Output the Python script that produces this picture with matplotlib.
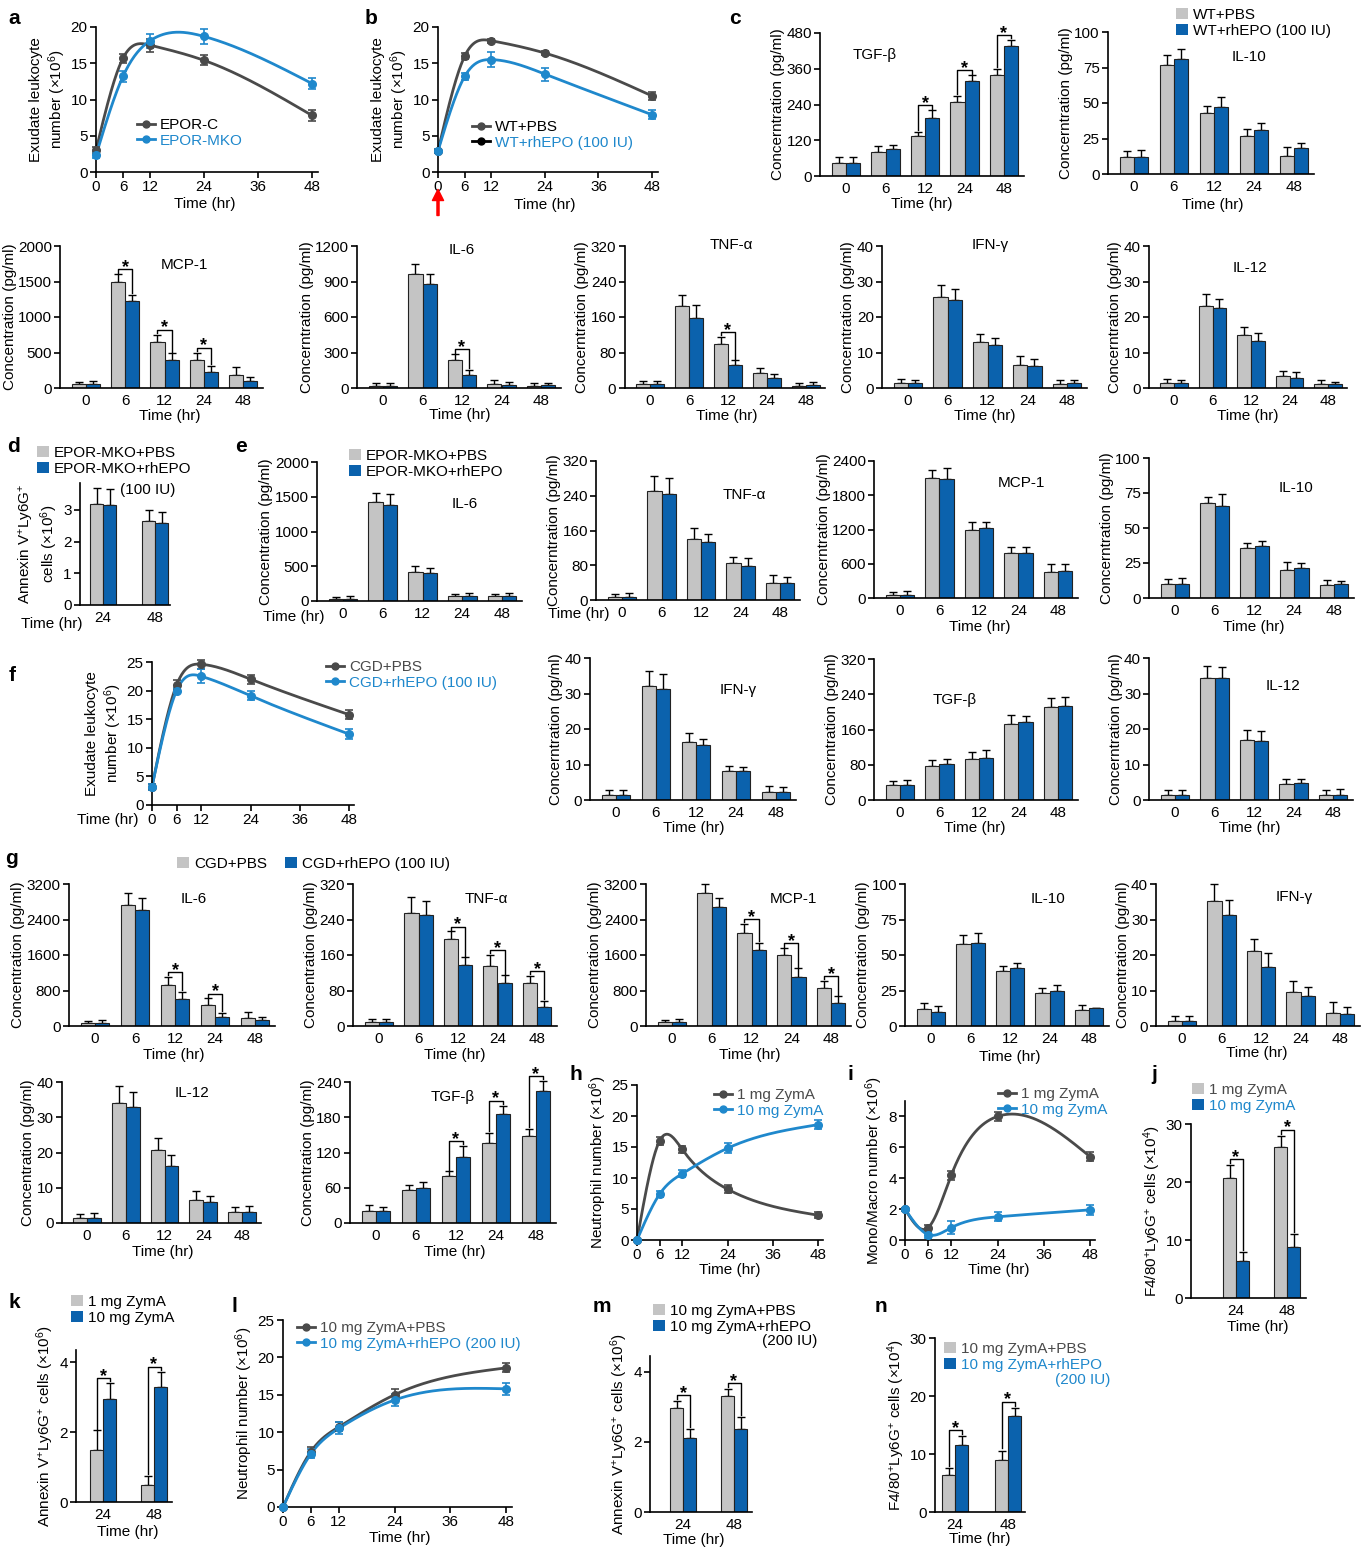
import numpy as np
import matplotlib
matplotlib.use('Agg')
import matplotlib.pyplot as plt
from matplotlib.lines import Line2D
from matplotlib.patches import Patch

plt.rcParams['font.family'] = ['Liberation Sans', 'DejaVu Sans']
plt.rcParams['mathtext.fontset'] = 'custom'
plt.rcParams['mathtext.rm'] = 'Liberation Sans'
plt.rcParams['mathtext.it'] = 'Liberation Sans:italic'
plt.rcParams['mathtext.bf'] = 'Liberation Sans:bold'

# ---------------- data ----------------
hours = [0, 6, 12, 24, 48]
times = ['0', '6', '12', '24', '48']
days2 = ['24', '48']

# a: exudate leukocytes
a_c = [3.0, 15.7, 17.5, 15.4, 7.8]
a_c_err = [0.5, 0.6, 0.9, 0.7, 0.7]
a_mko = [2.3, 13.2, 18.1, 18.7, 12.2]
a_mko_err = [0.4, 0.8, 1.0, 1.0, 0.8]
# b
b_pbs = [2.9, 16.0, 18.1, 16.4, 10.5]
b_pbs_err = [0.3, 0.4, 0.3, 0.3, 0.6]
b_epo = [2.9, 13.2, 15.5, 13.5, 7.9]
b_epo_err = [0.3, 0.5, 1.0, 0.9, 0.6]

# c (WT+PBS, WT+rhEPO)
c_tgf = [[45, 82, 135, 250, 340], [45, 90, 195, 318, 435]]
c_tgf_err = [[18, 18, 12, 20, 20], [20, 15, 25, 20, 22]]
c_il10 = [[12, 77, 43, 27, 13], [12, 81, 47, 31, 18]]
c_il10_err = [[4, 7, 5, 5, 6], [5, 7, 7, 5, 4]]
c_mcp = [[50, 1500, 650, 400, 190], [55, 1220, 400, 220, 100]]
c_mcp_err = [[40, 100, 100, 100, 100], [50, 90, 90, 90, 60]]
c_il6 = [[20, 960, 235, 35, 20], [20, 875, 110, 25, 25]]
c_il6_err = [[20, 90, 50, 30, 20], [25, 90, 45, 25, 20]]
c_tnf = [[8, 185, 100, 33, 5], [8, 158, 52, 22, 6]]
c_tnf_err = [[7, 25, 15, 12, 6], [8, 28, 10, 10, 7]]
c_ifn = [[1.5, 25.5, 13.0, 6.5, 1.2], [1.5, 24.8, 12.2, 6.2, 1.3]]
c_ifn_err = [[1.0, 3.4, 2.2, 2.5, 1.0], [0.7, 3.2, 1.8, 2.0, 0.9]]
c_il12 = [[1.5, 23.2, 14.8, 3.5, 1.2], [1.5, 22.4, 13.2, 2.7, 1.2]]
c_il12_err = [[1.0, 3.4, 2.3, 1.2, 1.0], [0.7, 2.7, 2.4, 1.8, 0.5]]

# d (EPOR-MKO + PBS / rhEPO)
d_vals = [[3.2, 2.65], [3.15, 2.6]]
d_err = [[0.5, 0.35], [0.5, 0.33]]

# e
e_il6 = [[30, 1420, 420, 70, 65], [30, 1380, 410, 75, 75]]
e_il6_err = [[30, 130, 80, 35, 40], [40, 160, 60, 45, 35]]
e_tnf = [[8, 250, 140, 85, 40], [8, 245, 133, 78, 40]]
e_tnf_err = [[5, 35, 25, 15, 18], [8, 35, 18, 18, 12]]
e_mcp = [[60, 2100, 1200, 780, 460], [60, 2090, 1220, 780, 470]]
e_mcp_err = [[50, 150, 130, 120, 140], [60, 180, 120, 110, 120]]
e_il10 = [[10, 68, 36, 20, 9.5], [10, 66, 37, 21.5, 10]]
e_il10_err = [[3.5, 4.5, 3.5, 5.5, 3.5], [4, 8, 3.5, 3.5, 2.5]]

# f
f_pbs = [3.2, 21.0, 24.6, 22.0, 15.8]
f_pbs_err = [0.5, 0.8, 0.8, 0.8, 0.8]
f_epo = [3.2, 20.0, 22.5, 19.1, 12.4]
f_epo_err = [0.5, 0.5, 1.2, 0.8, 0.8]
f_ifn = [[1.5, 32, 16.3, 8.3, 2.2], [1.5, 31.3, 15.5, 8.2, 2.2]]
f_ifn_err = [[1.2, 4.3, 2.7, 1.2, 1.8], [1.3, 4.2, 1.8, 1.2, 1.5]]
f_tgf = [[33, 78, 92, 172, 212], [33, 82, 95, 178, 213]]
f_tgf_err = [[10, 12, 18, 20, 20], [12, 12, 18, 12, 20]]
f_il12 = [[1.5, 34.5, 16.8, 4.5, 1.5], [1.5, 34.5, 16.5, 4.7, 1.5]]
f_il12_err = [[1.2, 3.2, 3.0, 1.5, 1.2], [1.3, 3.0, 3.0, 1.3, 1.5]]

# g
g_il6 = [[60, 2720, 920, 470, 180], [60, 2620, 600, 200, 140]]
g_il6_err = [[50, 280, 180, 150, 130], [70, 260, 170, 90, 70]]
g_tnf = [[8, 255, 195, 135, 98], [8, 250, 137, 96, 43]]
g_tnf_err = [[7, 35, 18, 25, 15], [8, 32, 18, 18, 13]]
g_mcp = [[80, 3000, 2100, 1600, 860], [80, 2680, 1720, 1100, 520]]
g_mcp_err = [[60, 200, 200, 150, 150], [80, 200, 150, 200, 150]]
g_il10 = [[12, 58, 38.5, 23, 11], [10, 58.5, 40.5, 25, 12.5]]
g_il10_err = [[4, 6, 4, 4, 4], [4, 7, 4, 4, 0]]
g_ifn = [[1.5, 35.3, 21, 9.5, 3.8], [1.5, 31.4, 16.6, 8.4, 3.3]]
g_ifn_err = [[1.2, 4.7, 3.5, 3.2, 3.0], [1.4, 4.2, 4.0, 2.7, 2.0]]
g_il12 = [[1.5, 34, 20.8, 6.6, 3.0], [1.5, 32.8, 16.3, 6.0, 3.0]]
g_il12_err = [[1.0, 5.0, 3.3, 2.5, 1.5], [1.3, 4.5, 3.0, 1.7, 1.8]]
g_tgf = [[20, 57, 80, 137, 148], [20, 60, 113, 186, 224]]
g_tgf_err = [[10, 8, 8, 16, 12], [8, 10, 18, 14, 18]]

# h / i (1 mg, 10 mg ZymA)
h_1mg = [0, 16.0, 14.6, 8.2, 4.0]
h_1mg_err = [0, 0.6, 0.5, 0.6, 0.5]
h_10mg = [0, 7.4, 10.7, 14.8, 18.6]
h_10mg_err = [0, 0.5, 0.6, 0.8, 0.7]
i_1mg = [2.0, 0.8, 4.2, 8.0, 5.4]
i_1mg_err = [0.1, 0.2, 0.3, 0.3, 0.3]
i_10mg = [2.0, 0.35, 0.8, 1.5, 1.95]
i_10mg_err = [0.1, 0.2, 0.4, 0.3, 0.3]

# j, k
j_vals = [[20.7, 26.1], [6.4, 8.8]]
j_err = [[2.2, 1.9], [1.6, 2.3]]
k_vals = [[1.5, 0.5], [2.95, 3.3]]
k_err = [[0.55, 0.25], [0.45, 0.42]]

# l
l_pbs = [0, 7.4, 10.7, 15.0, 18.6]
l_pbs_err = [0, 0.6, 0.6, 0.8, 0.6]
l_epo = [0, 7.1, 10.5, 14.3, 15.8]
l_epo_err = [0, 0.6, 0.8, 0.8, 0.8]

# m, n
m_vals = [[2.97, 3.3], [2.12, 2.38]]
m_err = [[0.2, 0.22], [0.25, 0.32]]
n_vals = [[6.4, 9.0], [11.6, 16.5]]
n_err = [[1.2, 1.6], [1.5, 1.5]]

# ---------------- style ----------------
W, H = 1367, 1549
FS = 11
GRAY = '#c4c4c4'
BLUE = '#0b62ad'
DARK = '#4a4a4a'
LBLUE = '#1f88cc'
CONC = 'Concentration (pg/ml)'
CONR = 'Concerntration (pg/ml)'
EXU = 'Exudate leukocyte\nnumber (×10$^6$)'
TH = 'Time (hr)'

fig = plt.figure(figsize=(W / 100, H / 100), dpi=100)


def px_axes(l, t, r, b):
    return fig.add_axes([l / W, 1 - b / H, (r - l) / W, (b - t) / H])


def ptext(x, y, s, **kw):
    kw.setdefault('fontsize', FS)
    kw.setdefault('ha', 'center')
    kw.setdefault('va', 'center')
    fig.text(x / W, 1 - y / H, s, **kw)


def style(ax):
    for sp in ['top', 'right']:
        ax.spines[sp].set_visible(False)
    for sp in ['left', 'bottom']:
        ax.spines[sp].set_linewidth(1.2)
    ax.tick_params(labelsize=FS, width=1.2, length=4, pad=2)


def noclip(container):
    for part in container.lines:
        if part is None:
            continue
        for art in (part if isinstance(part, tuple) else (part,)):
            art.set_clip_on(False)


def spline(x, y, n=300):
    # natural cubic spline through the points
    x = np.asarray(x, float)
    y = np.asarray(y, float)
    k = len(x)
    h = np.diff(x)
    A = np.zeros((k, k))
    r = np.zeros(k)
    A[0, 0] = A[-1, -1] = 1
    for i in range(1, k - 1):
        A[i, i - 1] = h[i - 1]
        A[i, i] = 2 * (h[i - 1] + h[i])
        A[i, i + 1] = h[i]
        r[i] = 3 * ((y[i + 1] - y[i]) / h[i] - (y[i] - y[i - 1]) / h[i - 1])
    c = np.linalg.solve(A, r)
    b = (y[1:] - y[:-1]) / h - h * (2 * c[:-1] + c[1:]) / 3
    d = (c[1:] - c[:-1]) / (3 * h)
    xs = np.linspace(x[0], x[-1], n)
    j = np.clip(np.searchsorted(x, xs) - 1, 0, k - 2)
    t = xs - x[j]
    return xs, y[j] + b[j] * t + c[j] * t ** 2 + d[j] * t ** 3


def draw_bars(ax, pos, vals, err, w):
    for off, ys, es, col in [(-w / 2, vals[0], err[0], GRAY), (w / 2, vals[1], err[1], BLUE)]:
        ys = np.asarray(ys, float)
        es = np.asarray(es, float)
        ax.bar(pos + off, ys, w, color=col, edgecolor='#222222', linewidth=0.8, zorder=2)
        eb = ax.errorbar(pos + off, ys, yerr=[np.zeros_like(es), es], fmt='none', ecolor='k',
                         elinewidth=1, capsize=3, capthick=1, zorder=1)
        noclip(eb)


def star(ax, i, vals, err, w, ymax):
    tg = vals[0][i] + err[0][i]
    tb = vals[1][i] + err[1][i]
    h = max(tg, tb) + 0.035 * ymax
    g = 0.012 * ymax
    ax.plot([i - w / 2, i - w / 2, i + w / 2, i + w / 2], [tg + g, h, h, tb + g],
            color='k', lw=1, clip_on=False)
    ax.annotate('*', (i, h), xytext=(0, -2), textcoords='offset points', ha='center',
                va='baseline', fontsize=13, fontweight='bold', annotation_clip=False)


def bar_panel(x0, x48, top, bot, vals, err, ymax, step, title, tpos, ylabel, stars=(), w=0.36):
    s = (x48 - x0) / 4
    ax = px_axes(x0 - 0.65 * s, top, x48 + 0.5 * s, bot)
    style(ax)
    pos = np.arange(len(times))
    draw_bars(ax, pos, vals, err, w)
    for i in stars:
        star(ax, i, vals, err, w, ymax)
    ax.set_xlim(-0.65, 4.5)
    ax.set_ylim(0, ymax)
    ax.set_yticks(np.arange(0, ymax + step / 2, step))
    ax.set_xticks(pos, times)
    ax.tick_params(axis='x', length=0, pad=4)
    ax.set_ylabel(ylabel, fontsize=FS, labelpad=1)
    ptext(tpos[0], tpos[1], title)
    return ax


def small_bars(spine, c1, c2, right, top, bot, vals, err, ymax, ticks, ylabel, stars=True):
    s = c2 - c1
    ax = px_axes(spine, top, right, bot)
    style(ax)
    pos = np.arange(2)
    w = 13 / s
    draw_bars(ax, pos, vals, err, w)
    if stars:
        for i in pos:
            star(ax, i, vals, err, w, ymax)
    ax.set_xlim((spine - c1) / s, 1 + (right - c2) / s)
    ax.set_ylim(0, ymax)
    ax.set_yticks(ticks)
    ax.set_xticks(pos, days2)
    ax.tick_params(axis='x', length=0, pad=4)
    ax.set_ylabel(ylabel, fontsize=FS, labelpad=2)
    return ax


def line_panel(x0, x48, top, bot, ymax, step, series, ylabel, ytop=None):
    s = (x48 - x0) / 48
    ax = px_axes(x0, top, x48 + 1.3 * s, bot)
    style(ax)
    for y, e, col in series:
        xs, ys = spline(hours, y)
        ax.plot(xs, ys, color=col, lw=2, clip_on=False, zorder=2)
        eb = ax.errorbar(hours, y, yerr=e, fmt='o', color=col, ms=5.5, elinewidth=1.2,
                         capsize=3, capthick=1.2, zorder=3)
        noclip(eb)
    ax.set_xlim(0, 49.3)
    ax.set_ylim(0, ytop if ytop else ymax)
    ax.set_xticks([0, 6, 12, 24, 36, 48])
    ax.set_yticks(np.arange(0, ymax + step / 2, step))
    ax.set_ylabel(ylabel, fontsize=FS, labelpad=2)
    return ax


def legend(ax, handles, labels, x, y, colors=None, hl=0.8, ncol=1):
    lg = ax.legend(handles, labels, loc='upper left', bbox_to_anchor=(x / W, 1 - y / H),
                   bbox_transform=fig.transFigure, frameon=False, fontsize=FS,
                   handlelength=hl, handleheight=0.7, handletextpad=0.3, labelspacing=0.1,
                   borderpad=0, borderaxespad=0, ncol=ncol, columnspacing=1.2)
    if colors:
        for t, c in zip(lg.get_texts(), colors):
            t.set_color(c)
    return lg


def bar_handles():
    return [Patch(facecolor=GRAY, edgecolor='none'), Patch(facecolor=BLUE, edgecolor='none')]


def line_handle(col):
    return Line2D([], [], color=col, marker='o', ms=5, lw=2)


# ---------------- row 1 ----------------
ax = line_panel(96, 312, 27, 172, 20, 5,
                [(a_c, a_c_err, DARK), (a_mko, a_mko_err, LBLUE)], EXU)
legend(ax, [line_handle(DARK), line_handle(LBLUE)], ['EPOR-C', 'EPOR-MKO'], 137, 118,
       colors=['k', LBLUE], hl=1.2)
ptext(205, 204, TH)

ax = line_panel(438, 652, 27, 172, 20, 5,
                [(b_pbs, b_pbs_err, DARK), (b_epo, b_epo_err, LBLUE)], EXU)
legend(ax, [line_handle(DARK), line_handle('k')], ['WT+PBS', 'WT+rhEPO (100 IU)'], 472, 120,
       colors=['k', LBLUE], hl=1.2)
ax.annotate('', xy=(0, -0.12), xytext=(0, -0.3), xycoords=('data', 'axes fraction'),
            arrowprops=dict(color='red', width=1.5, headwidth=8, headlength=8), annotation_clip=False)
ptext(545, 205, TH)

bar_panel(846, 1004, 33, 176, c_tgf, c_tgf_err, 480, 120, 'TGF-β', (875, 55), CONR, stars=(2, 3, 4))
ptext(922, 204, TH)
ax = bar_panel(1134, 1294, 32, 174, c_il10, c_il10_err, 100, 25, 'IL-10', (1249, 57), CONR)
legend(ax, bar_handles(), ['WT+PBS', 'WT+rhEPO (100 IU)'], 1176, 8)
ptext(1213, 205, TH)

# ---------------- row 2 ----------------
bar_panel(86, 243, 246, 388, c_mcp, c_mcp_err, 2000, 500, 'MCP-1', (184, 265), CONC, stars=(1, 2, 3))
ptext(170, 416, TH)
bar_panel(383, 541, 246, 388, c_il6, c_il6_err, 1200, 300, 'IL-6', (462, 250), CONR, stars=(2,))
ptext(460, 415, TH)
bar_panel(650, 806, 246, 388, c_tnf, c_tnf_err, 320, 80, 'TNF-α', (731, 245), CONR, stars=(2,))
ptext(727, 416, TH)
bar_panel(908, 1067, 246, 388, c_ifn, c_ifn_err, 40, 10, 'IFN-γ', (990, 245), CONR)
ptext(985, 416, TH)
bar_panel(1174, 1328, 246, 388, c_il12, c_il12_err, 40, 10, 'IL-12', (1250, 268), CONR)
ptext(1248, 416, TH)

# ---------------- row 3 ----------------
ax = small_bars(80, 103, 155, 170, 483, 605, d_vals, d_err, 3.85, [0, 1, 2, 3],
                'Annexin V$^{+}$Ly6G$^{+}$\ncells (×10$^6$)', stars=False)
legend(ax, bar_handles(), ['EPOR-MKO+PBS', 'EPOR-MKO+rhEPO'], 37, 446)
ptext(148, 490, '(100 IU)')
ptext(52, 624, TH)

ax = bar_panel(343, 502, 462, 601, e_il6, e_il6_err, 2000, 500, 'IL-6', (465, 504), CONC)
legend(ax, bar_handles(), ['EPOR-MKO+PBS', 'EPOR-MKO+rhEPO'], 349, 449)
ptext(294, 617, TH)
bar_panel(622, 780, 461, 600, e_tnf, e_tnf_err, 320, 80, 'TNF-α', (744, 495), CONR)
ptext(579, 614, TH)
bar_panel(900, 1058, 461, 598, e_mcp, e_mcp_err, 2400, 600, 'MCP-1', (1021, 483), CONR)
ptext(980, 627, TH)
bar_panel(1175, 1334, 458, 598, e_il10, e_il10_err, 100, 25, 'IL-10', (1296, 488), CONR)
ptext(1254, 627, TH)

# ---------------- row 4 ----------------
ax = line_panel(152, 349, 662, 805, 25, 5,
                [(f_pbs, f_pbs_err, DARK), (f_epo, f_epo_err, LBLUE)], EXU)
legend(ax, [line_handle(DARK), line_handle(LBLUE)], ['CGD+PBS', 'CGD+rhEPO (100 IU)'], 326, 660,
       colors=[DARK, LBLUE], hl=1.2)
ptext(108, 820, TH)
bar_panel(616, 776, 658, 800, f_ifn, f_ifn_err, 40, 10, 'IFN-γ', (738, 690), CONR)
ptext(694, 828, TH)
bar_panel(900, 1058, 659, 800, f_tgf, f_tgf_err, 320, 80, 'TGF-β', (955, 700), CONR)
ptext(975, 828, TH)
bar_panel(1175, 1333, 658, 800, f_il12, f_il12_err, 40, 10, 'IL-12', (1283, 686), CONR)
ptext(1250, 828, TH)

# ---------------- row 5 ----------------
ax = bar_panel(95, 255, 884, 1026, g_il6, g_il6_err, 3200, 800, 'IL-6', (194, 899), CONC, stars=(2, 3))
legend(ax, bar_handles(), ['CGD+PBS', 'CGD+rhEPO (100 IU)'], 177, 857, ncol=2)
ptext(174, 1055, TH)
bar_panel(379, 537, 884, 1026, g_tnf, g_tnf_err, 320, 80, 'TNF-α', (486, 899), CONC, stars=(2, 3, 4))
ptext(455, 1055, TH)
bar_panel(672, 831, 884, 1026, g_mcp, g_mcp_err, 3200, 800, 'MCP-1', (793, 899), CONC, stars=(2, 3, 4))
ptext(750, 1055, TH)
bar_panel(931, 1089, 884, 1026, g_il10, g_il10_err, 100, 25, 'IL-10', (1048, 899), CONC)
ptext(1010, 1057, TH)
bar_panel(1182, 1340, 884, 1026, g_ifn, g_ifn_err, 40, 10, 'IFN-γ', (1294, 897), CONC)
ptext(1257, 1053, TH)

# ---------------- row 6 ----------------
bar_panel(87, 242, 1082, 1223, g_il12, g_il12_err, 40, 10, 'IL-12', (192, 1093), CONC)
ptext(163, 1252, TH)
bar_panel(376, 536, 1082, 1223, g_tgf, g_tgf_err, 240, 60, 'TGF-β', (453, 1097), CONC, stars=(2, 3, 4))
ptext(455, 1252, TH)

ax = line_panel(637, 818, 1085, 1240, 25, 5,
                [(h_1mg, h_1mg_err, DARK), (h_10mg, h_10mg_err, LBLUE)],
                'Neutrophil number (×10$^6$)')
legend(ax, [line_handle(DARK), line_handle(LBLUE)], ['1 mg ZymA', '10 mg ZymA'], 714, 1088,
       colors=[DARK, LBLUE], hl=1.2)
ptext(730, 1270, TH)

ax = line_panel(905, 1090, 1101, 1240, 8, 2,
                [(i_1mg, i_1mg_err, DARK), (i_10mg, i_10mg_err, LBLUE)],
                'Mono/Macro number (×10$^6$)', ytop=9)
legend(ax, [line_handle(DARK), line_handle(LBLUE)], ['1 mg ZymA', '10 mg ZymA'], 998, 1087,
       colors=[DARK, LBLUE], hl=1.2)
ptext(999, 1270, TH)

ax = small_bars(1191, 1236, 1287, 1306, 1124, 1298, j_vals, j_err, 30, [0, 10, 20, 30],
                'F4/80$^{+}$Ly6G$^{+}$ cells (×10$^4$)')
legend(ax, bar_handles(), ['1 mg ZymA', '10 mg ZymA'], 1192, 1083, colors=[DARK, LBLUE])
ptext(1258, 1327, TH)

# ---------------- row 7 ----------------
ax = small_bars(76, 103, 154, 172, 1350, 1502, k_vals, k_err, 4.35, [0, 2, 4],
                'Annexin V$^{+}$Ly6G$^{+}$ cells (×10$^6$)')
legend(ax, bar_handles(), ['1 mg ZymA', '10 mg ZymA'], 71, 1295)
ptext(128, 1532, TH)

ax = line_panel(283, 506, 1320, 1507, 25, 5,
                [(l_pbs, l_pbs_err, DARK), (l_epo, l_epo_err, LBLUE)],
                'Neutrophil number (×10$^6$)')
legend(ax, [line_handle(DARK), line_handle(LBLUE)], ['10 mg ZymA+PBS', '10 mg ZymA+rhEPO (200 IU)'],
       297, 1321, colors=[DARK, LBLUE], hl=1.2)
ptext(400, 1538, TH)

ax = small_bars(650, 683, 734, 752, 1356, 1512, m_vals, m_err, 4.45, [0, 2, 4],
                'Annexin V$^{+}$Ly6G$^{+}$ cells (×10$^6$)')
legend(ax, bar_handles(), ['10 mg ZymA+PBS', '10 mg ZymA+rhEPO'], 653, 1304)
ptext(790, 1341, '(200 IU)')
ptext(694, 1540, TH)

ax = small_bars(935, 955, 1008, 1025, 1338, 1512, n_vals, n_err, 30, [0, 10, 20, 30],
                'F4/80$^{+}$Ly6G$^{+}$ cells (×10$^4$)')
legend(ax, bar_handles(), ['10 mg ZymA+PBS', '10 mg ZymA+rhEPO'], 944, 1342, colors=[DARK, LBLUE])
ptext(1083, 1380, '(200 IU)', color=LBLUE)
ptext(980, 1539, TH)

# panel letters
for lab, x, y in [('a', 14, 18), ('b', 371, 18), ('c', 735, 18), ('d', 14, 446), ('e', 241, 446),
                  ('f', 12, 675), ('g', 12, 858), ('h', 576, 1075), ('i', 850, 1075),
                  ('j', 1154, 1075), ('k', 14, 1302), ('l', 234, 1306), ('m', 602, 1306),
                  ('n', 881, 1306)]:
    ptext(x, y, lab, fontsize=15, fontweight='bold')

fig.savefig('out.png', dpi=100)
